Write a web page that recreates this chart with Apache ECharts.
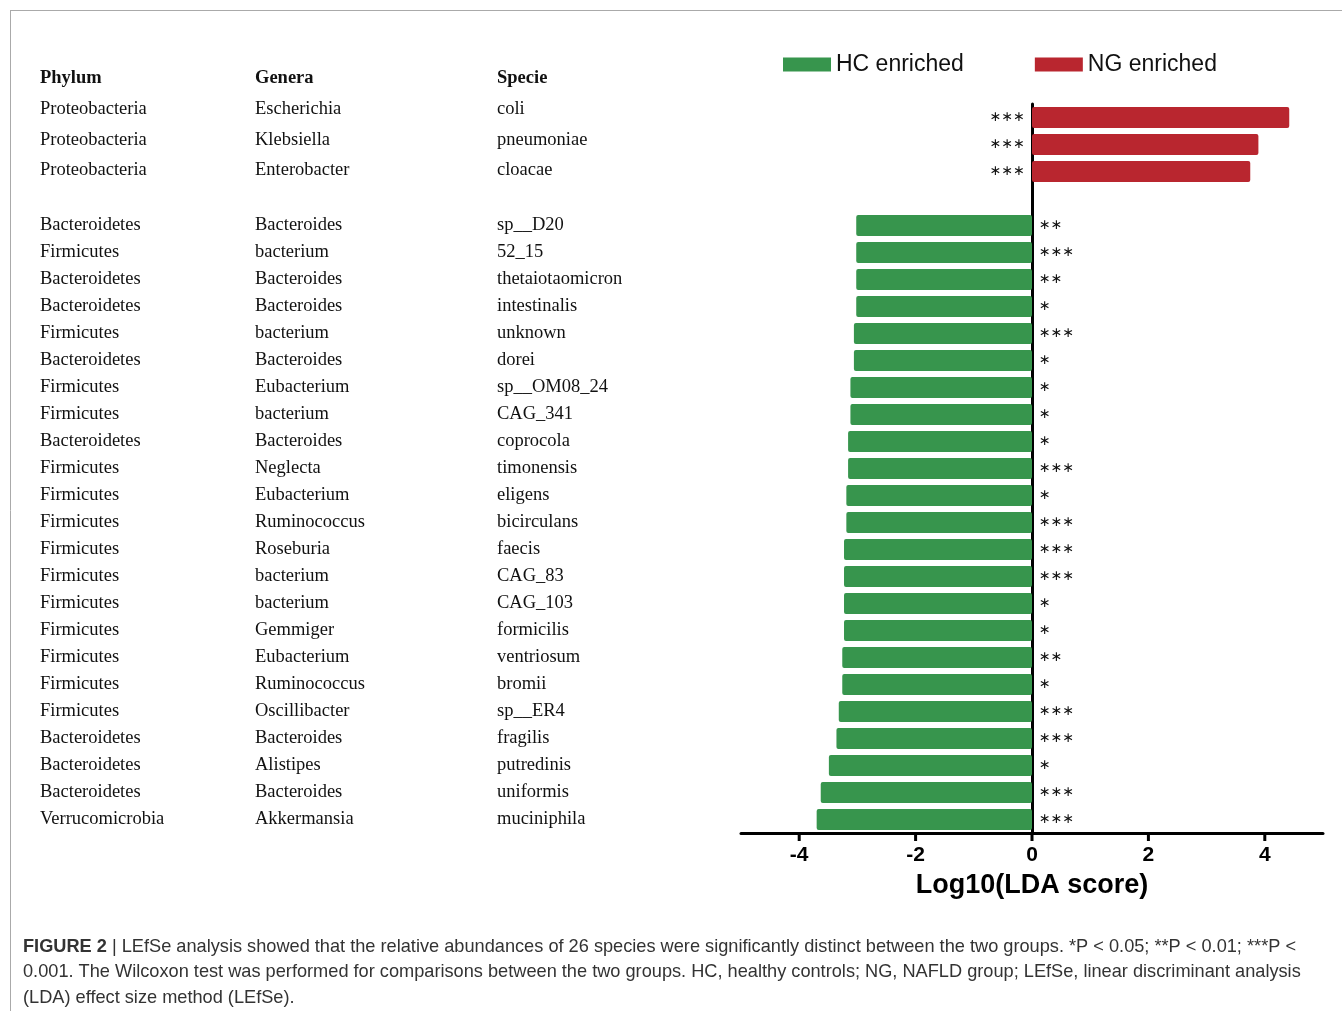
<!DOCTYPE html>
<html>
<head>
<meta charset="utf-8">
<script src="https://cdn.jsdelivr.net/npm/echarts@6/dist/echarts.min.js"></script>
<style>html,body{margin:0;padding:0;background:#fff;}#c{width:1342px;height:1011px;}</style>
</head>
<body>
<div id="c"></div>
<script>
const phylum = ['Proteobacteria','Proteobacteria','Proteobacteria','',
  'Bacteroidetes','Firmicutes','Bacteroidetes','Bacteroidetes','Firmicutes','Bacteroidetes',
  'Firmicutes','Firmicutes','Bacteroidetes','Firmicutes','Firmicutes','Firmicutes','Firmicutes',
  'Firmicutes','Firmicutes','Firmicutes','Firmicutes','Firmicutes','Firmicutes','Bacteroidetes',
  'Bacteroidetes','Bacteroidetes','Verrucomicrobia'];
const genera = ['Escherichia','Klebsiella','Enterobacter','',
  'Bacteroides','bacterium','Bacteroides','Bacteroides','bacterium','Bacteroides',
  'Eubacterium','bacterium','Bacteroides','Neglecta','Eubacterium','Ruminococcus','Roseburia',
  'bacterium','bacterium','Gemmiger','Eubacterium','Ruminococcus','Oscillibacter','Bacteroides',
  'Alistipes','Bacteroides','Akkermansia'];
const species = ['coli','pneumoniae','cloacae','',
  'sp__D20','52_15','thetaiotaomicron','intestinalis','unknown','dorei',
  'sp__OM08_24','CAG_341','coprocola','timonensis','eligens','bicirculans','faecis',
  'CAG_83','CAG_103','formicilis','ventriosum','bromii','sp__ER4','fragilis',
  'putredinis','uniformis','muciniphila'];
const ngValues = [4.42, 3.89, 3.75, null,
  null,null,null,null,null,null,null,null,null,null,null,null,null,null,null,null,null,null,null,null,null,null,null];
const hcValues = [null, null, null, null,
  -3.02,-3.02,-3.02,-3.02,-3.06,-3.06,-3.12,-3.12,-3.16,-3.16,-3.19,-3.19,-3.23,
  -3.23,-3.23,-3.23,-3.26,-3.26,-3.32,-3.36,-3.49,-3.63,-3.70];
const stars = ['***','***','***','',
  '**','***','**','*','***','*','*','*','*','***','*','***','***',
  '***','*','*','**','*','***','***','*','***','***'];
const xTicks = [-4, -2, 0, 2, 4];
const headers = ['Phylum', 'Genera', 'Specie'];
const seriesNames = ['HC enriched', 'NG enriched'];
const caption = [
  '{b|FIGURE 2} | LEfSe analysis showed that the relative abundances of 26 species were significantly distinct between the two groups. *P < 0.05; **P < 0.01; ***P <',
  '0.001. The Wilcoxon test was performed for comparisons between the two groups. HC, healthy controls; NG, NAFLD group; LEfSe, linear discriminant analysis',
  '(LDA) effect size method (LEfSe).'
];

const GREEN = '#37954d', RED = '#b9262f';
const cats = species.map((s, i) => 'r' + i);
const serif = '"Liberation Serif", "Times New Roman", serif';
const sans = '"Liberation Sans", Arial, sans-serif';
const starText = s => s.replace(/\*/g, '\u2217');
// the first table rows sit a little higher than their bars in the original figure
const lift = {0: 16, 1: 8, 2: 2};

const chart = echarts.init(document.getElementById('c'), null, {renderer: 'canvas'});
const tableStyle = {fontFamily: serif, fontSize: 18.5, color: '#111'};
chart.setOption({
  animation: false,
  backgroundColor: '#fff',
  grid: {left: 741, right: 19, top: 104, bottom: 178, containLabel: false},
  legend: {
    data: seriesNames,
    left: 778, top: 48,
    icon: 'rect', itemWidth: 48, itemHeight: 14, itemGap: 71,
    textStyle: {fontFamily: sans, fontSize: 23, color: '#111'}
  },
  xAxis: {
    type: 'value', min: -5, max: 5,
    axisLine: {show: true, onZero: false, lineStyle: {color: '#000', width: 3}},
    axisTick: {show: false},
    axisLabel: {customValues: xTicks, fontFamily: sans, fontWeight: 'bold', fontSize: 21, color: '#000', margin: 12},
    splitLine: {show: false},
    name: 'Log10(LDA score)', nameLocation: 'middle', nameGap: 39,
    nameTextStyle: {fontFamily: sans, fontWeight: 'bold', fontSize: 27, color: '#000'}
  },
  yAxis: [{
    type: 'category', data: cats, inverse: true,
    axisLine: {show: true, onZero: true, lineStyle: {color: '#000', width: 3}},
    axisTick: {show: false}, axisLabel: {show: false}, splitLine: {show: false}
  }, {
    type: 'category', data: cats, inverse: true, position: 'left',
    axisLine: {show: false, onZero: false}, axisTick: {show: false}, splitLine: {show: false},
    axisLabel: {
      margin: 8, interval: 0,
      formatter: (v, i) => {
        if (species[i] === '') return '';
        let s = '{p|' + phylum[i] + '}{g|' + genera[i] + '}{s|' + species[i] + '}';
        if (lift[i]) s += '\n{h' + i + '| }';
        return s;
      },
      rich: {
        p: Object.assign({width: 215, align: 'left'}, tableStyle),
        g: Object.assign({width: 242, align: 'left'}, tableStyle),
        s: Object.assign({width: 236, align: 'left'}, tableStyle),
        h0: {height: lift[0], fontSize: 1, lineHeight: lift[0]},
        h1: {height: lift[1], fontSize: 1, lineHeight: lift[1]},
        h2: {height: lift[2], fontSize: 1, lineHeight: lift[2]}
      }
    }
  }],
  series: [{
    name: seriesNames[0], type: 'bar', stack: 'all', data: hcValues, barWidth: 21,
    itemStyle: {color: GREEN, borderRadius: 2},
    label: {show: true, position: 'right', distance: 7, formatter: p => starText(stars[p.dataIndex]),
      fontFamily: '"DejaVu Sans"', fontSize: 14, color: '#111'}
  }, {
    name: seriesNames[1], type: 'bar', stack: 'all', data: ngValues, barWidth: 21,
    itemStyle: {color: RED, borderRadius: 2},
    label: {show: true, position: 'left', distance: 7, formatter: p => starText(stars[p.dataIndex]),
      fontFamily: '"DejaVu Sans"', fontSize: 14, color: '#111'}
  }, {
    // x-axis tick marks, placed through the value scale
    name: 'ticks', type: 'custom', coordinateSystem: 'cartesian2d', xAxisIndex: 0, yAxisIndex: 0,
    clip: false, silent: true, z: 5,
    encode: {x: 0},
    data: xTicks.map(v => [v]),
    renderItem: (params, api) => {
      const x = api.coord([api.value(0), 0])[0];
      const cs = params.coordSys;
      const y = cs.y + cs.height;
      return {type: 'line', shape: {x1: x, y1: y, x2: x, y2: y + 8},
        style: {stroke: '#000', lineWidth: 3}};
    }
  }],
  graphic: [
    {type: 'line', shape: {x1: 10, y1: 10.5, x2: 1342, y2: 10.5}, style: {stroke: '#aaa', lineWidth: 1}, silent: true},
    {type: 'line', shape: {x1: 10.5, y1: 10, x2: 10.5, y2: 1011}, style: {stroke: '#aaa', lineWidth: 1}, silent: true},
    {type: 'text', left: 40, top: 69, style: {text: headers[0], font: 'bold 18.5px ' + serif, fill: '#111'}},
    {type: 'text', left: 255, top: 69, style: {text: headers[1], font: 'bold 18.5px ' + serif, fill: '#111'}},
    {type: 'text', left: 497, top: 69, style: {text: headers[2], font: 'bold 18.5px ' + serif, fill: '#111'}},
    {type: 'text', left: 23, top: 934, style: {
      text: caption.join('\n'), fontFamily: sans, fontSize: 18.2, lineHeight: 25.5, fill: '#333',
      rich: {b: {fontFamily: sans, fontSize: 18.2, fontWeight: 'bold', fill: '#333', lineHeight: 25.5}}
    }}
  ]
});
</script>
</body>
</html>
